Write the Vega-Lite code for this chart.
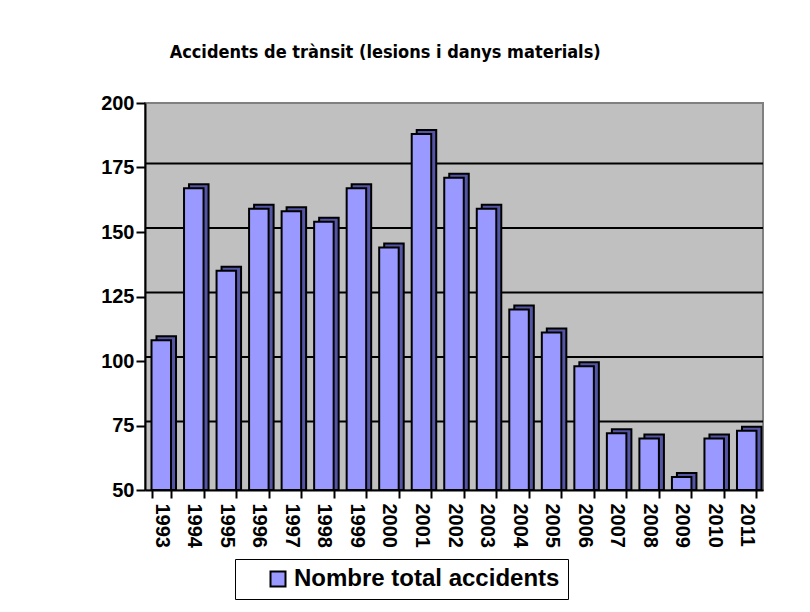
{
  "$schema": "https://vega.github.io/schema/vega-lite/v6.json",
  "autosize": {"type": "none"},
  "padding": {"left": 145, "top": 103, "right": 47, "bottom": 122},
  "width": 618,
  "height": 387,
  "background": "white",
  "title": {
    "text": "Accidents de trànsit (lesions i danys materials)",
    "anchor": "start",
    "dx": 69,
    "offset": 31,
    "font": "DejaVu Sans Condensed",
    "fontSize": 18,
    "fontWeight": "bold",
    "color": "black"
  },
  "config": {
    "view": {"fill": "#c0c0c0", "stroke": "#808080", "strokeWidth": 2},
    "axis": {"labelFont": "Liberation Sans", "labelFontWeight": "bold", "labelFontSize": 20, "labelColor": "black", "tickColor": "black", "domainColor": "black", "domainWidth": 2, "tickWidth": 2}
  },
  "data": {
    "values": [
      {"any": "1993", "valor": 108, "serie": "Nombre total accidents"},
      {"any": "1994", "valor": 167, "serie": "Nombre total accidents"},
      {"any": "1995", "valor": 135, "serie": "Nombre total accidents"},
      {"any": "1996", "valor": 159, "serie": "Nombre total accidents"},
      {"any": "1997", "valor": 158, "serie": "Nombre total accidents"},
      {"any": "1998", "valor": 154, "serie": "Nombre total accidents"},
      {"any": "1999", "valor": 167, "serie": "Nombre total accidents"},
      {"any": "2000", "valor": 144, "serie": "Nombre total accidents"},
      {"any": "2001", "valor": 188, "serie": "Nombre total accidents"},
      {"any": "2002", "valor": 171, "serie": "Nombre total accidents"},
      {"any": "2003", "valor": 159, "serie": "Nombre total accidents"},
      {"any": "2004", "valor": 120, "serie": "Nombre total accidents"},
      {"any": "2005", "valor": 111, "serie": "Nombre total accidents"},
      {"any": "2006", "valor": 98, "serie": "Nombre total accidents"},
      {"any": "2007", "valor": 72, "serie": "Nombre total accidents"},
      {"any": "2008", "valor": 70, "serie": "Nombre total accidents"},
      {"any": "2009", "valor": 55, "serie": "Nombre total accidents"},
      {"any": "2010", "valor": 70, "serie": "Nombre total accidents"},
      {"any": "2011", "valor": 73, "serie": "Nombre total accidents"}
    ]
  },
  "encoding": {
    "x": {
      "field": "any", "type": "ordinal", "title": null,
      "scale": {"paddingInner": 0.4, "paddingOuter": 0.2},
      "axis": {"labelAngle": 90, "tickBand": "extent", "tickSize": 8, "labelPadding": 5, "domain": true}
    }
  },
  "layer": [
    {
      "mark": {"type": "rule", "color": "black", "strokeWidth": 2, "yOffset": -4},
      "data": {"values": [{"g": 75}, {"g": 100}, {"g": 125}, {"g": 150}, {"g": 175}]},
      "encoding": {"x": null, "y": {"field": "g", "type": "quantitative", "scale": {"domain": [50, 200]}}}
    },
    {
      "mark": {"type": "bar", "fill": "#5555a6", "stroke": "black", "strokeWidth": 2, "xOffset": 5, "yOffset": -4},
      "encoding": {
        "y": {"field": "valor", "type": "quantitative"},
        "y2": {"datum": 50}
      }
    },
    {
      "mark": {"type": "bar", "stroke": "black", "strokeWidth": 2},
      "encoding": {
        "y": {
          "field": "valor", "type": "quantitative", "title": null,
          "scale": {"domain": [50, 200], "zero": false, "nice": false},
          "axis": {"values": [50, 75, 100, 125, 150, 175, 200], "grid": false, "tickSize": 9, "labelPadding": 2}
        },
        "y2": {"datum": 50},
        "color": {
          "field": "serie", "type": "nominal",
          "scale": {"range": ["#9999ff"]},
          "legend": {
            "title": "\u2003", "titleOrient": "right", "titleFontSize": 22, "titlePadding": 0,
            "orient": "none", "legendX": 90, "legendY": 456,
            "symbolType": "square", "symbolSize": 225, "symbolStrokeColor": "black", "symbolStrokeWidth": 2,
            "symbolOffset": 23, "labelOffset": 4,
            "labelFont": "Liberation Sans", "labelFontWeight": "bold", "labelFontSize": 24, "labelColor": "black",
            "strokeColor": "black", "padding": 8, "fillColor": "white", "labelLimit": 400
          }
        }
      }
    }
  ]
}
